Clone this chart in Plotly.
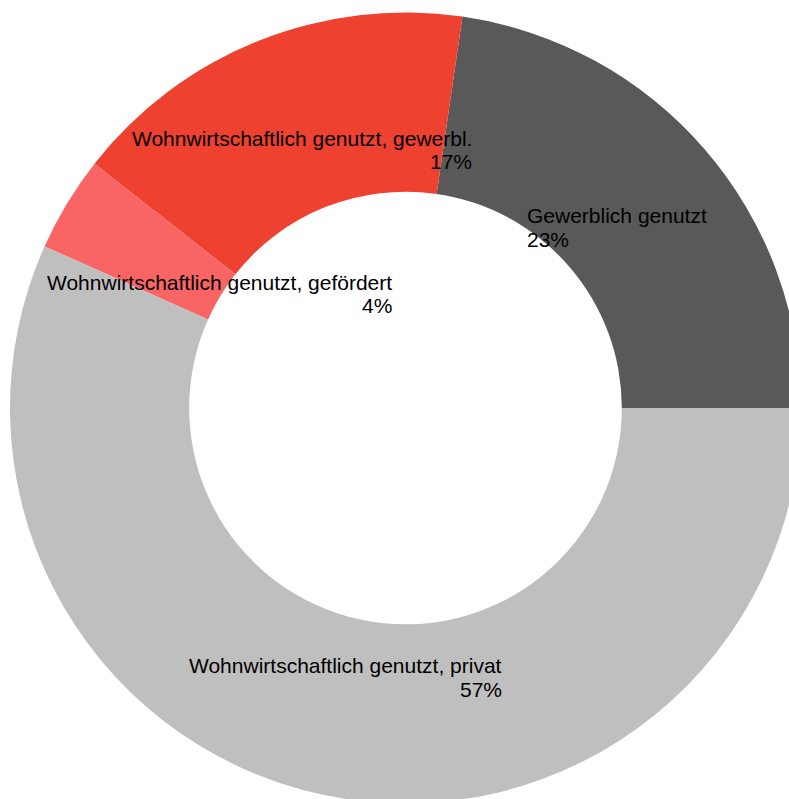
import plotly.graph_objects as go

labels = [
    "Gewerblich genutzt",
    "Wohnwirtschaftlich genutzt, gewerbl.",
    "Wohnwirtschaftlich genutzt, gefördert",
    "Wohnwirtschaftlich genutzt, privat",
]
values = [22.7, 16.7, 3.9, 56.7]
colors = ["#595959", "#EE4130", "#F96565", "#BFBFBF"]

# figure is slightly larger than the window so the ring runs off the edges like the original
W, H = 801, 804
M = dict(l=10, r=0, t=12, b=0)


def px(x, y):
    # window pixel position -> paper coords
    return ((x - M["l"]) / (W - M["l"] - M["r"]),
            1 - (y - M["t"]) / (H - M["t"] - M["b"]))


# label anchor (x px, side, line-1 centre y px, line-2 centre y px)
label_pos = [
    (527, "left", 215.7, 239.7),
    (472, "right", 138.7, 161.7),
    (392, "right", 282.7, 305.7),
    (502, "right", 665.7, 689.7),
]

total = sum(values)

fig = go.Figure()

# ccw in plotly puts the first slice clockwise of `rotation`, so shift it back
fig.add_trace(go.Pie(
    labels=labels,
    values=values,
    hole=0.547,
    sort=False,
    direction="counterclockwise",
    rotation=90 - 360 * values[0] / total,
    marker=dict(colors=colors, line=dict(width=0)),
    textinfo="none",
    hoverinfo="label+percent",
    showlegend=False,
))

font = dict(family="Arial, Liberation Sans, sans-serif", size=21, color="#000000")

for lab, val, (ax, side, y1, y2) in zip(labels, values, label_pos):
    pct = f"{round(val / total * 100)}%"
    for txt, yy in [(lab, y1), (pct, y2)]:
        xp, yp = px(ax, yy)
        fig.add_annotation(
            x=xp, y=yp, xref="paper", yref="paper",
            text=txt, showarrow=False,
            xanchor=side, yanchor="middle",
            align=side, font=font,
            borderpad=0, borderwidth=0,
        )

fig.update_layout(
    width=W,
    height=H,
    margin=M,
    paper_bgcolor="white",
    plot_bgcolor="white",
)

# figure overflows the window on purpose: drop the body margin and scrollbars
fig.write_html(
    "out.html",
    config={"displayModeBar": False},
    post_script="document.documentElement.style.overflow='hidden';"
                "document.body.style.overflow='hidden';"
                "document.body.style.margin='0';",
)
